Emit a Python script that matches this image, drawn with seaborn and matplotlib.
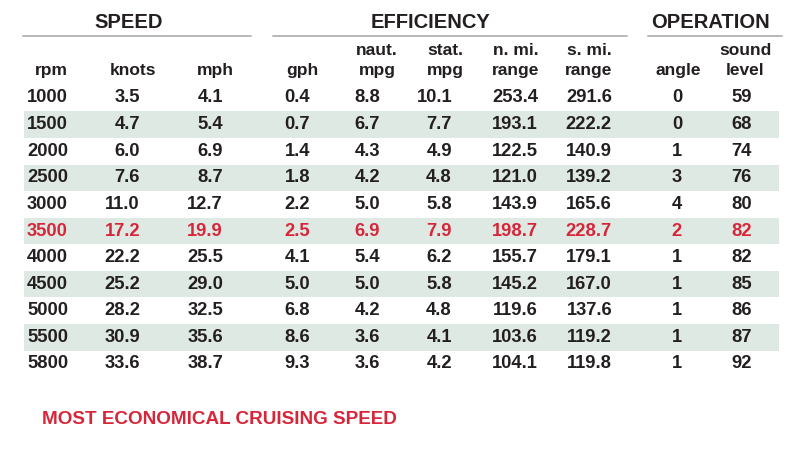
import matplotlib
matplotlib.use("Agg")
import matplotlib.pyplot as plt
import seaborn as sns

# ---- data ----
rpm = [1000, 1500, 2000, 2500, 3000, 3500, 4000, 4500, 5000, 5500, 5800]
knots = [3.5, 4.7, 6.0, 7.6, 11.0, 17.2, 22.2, 25.2, 28.2, 30.9, 33.6]
mph = [4.1, 5.4, 6.9, 8.7, 12.7, 19.9, 25.5, 29.0, 32.5, 35.6, 38.7]
gph = [0.4, 0.7, 1.4, 1.8, 2.2, 2.5, 4.1, 5.0, 6.8, 8.6, 9.3]
naut_mpg = [8.8, 6.7, 4.3, 4.2, 5.0, 6.9, 5.4, 5.0, 4.2, 3.6, 3.6]
stat_mpg = [10.1, 7.7, 4.9, 4.8, 5.8, 7.9, 6.2, 5.8, 4.8, 4.1, 4.2]
nmi_range = [253.4, 193.1, 122.5, 121.0, 143.9, 198.7, 155.7, 145.2, 119.6, 103.6, 104.1]
smi_range = [291.6, 222.2, 140.9, 139.2, 165.6, 228.7, 179.1, 167.0, 137.6, 119.2, 119.8]
angle = [0, 0, 1, 3, 4, 2, 1, 1, 1, 1, 1]
sound = [59, 68, 74, 76, 80, 82, 82, 85, 86, 87, 92]

groups = ["SPEED", "EFFICIENCY", "OPERATION"]
col_labels = ["rpm", "knots", "mph", "gph", "naut.\nmpg", "stat.\nmpg",
              "n. mi.\nrange", "s. mi.\nrange", "angle", "sound\nlevel"]
highlight_rpm = 3500
footer = "MOST ECONOMICAL CRUISING SPEED"

# ---- style ----
sns.set_theme(style="white")
plt.rcParams['font.family'] = ['Liberation Sans', 'DejaVu Sans']

DARK = "#231f20"
RED = "#d7263a"
BAND = "#dfe9e3"
RULE = "#b8b8b8"

columns = [
    [str(v) for v in rpm],
    [f"{v:.1f}" for v in knots],
    [f"{v:.1f}" for v in mph],
    [f"{v:.1f}" for v in gph],
    [f"{v:.1f}" for v in naut_mpg],
    [f"{v:.1f}" for v in stat_mpg],
    [f"{v:.1f}" for v in nmi_range],
    [f"{v:.1f}" for v in smi_range],
    [str(v) for v in angle],
    [str(v) for v in sound],
]

# anchor x for values and alignment, header centers
val_x = [27, 140, 223, 310, 380, 452, 538, 612, 677, 752]
val_ha = ["left", "right", "right", "right", "right", "right", "right", "right", "center", "right"]
head_x = [51, 133, 215, 302, 377, 445, 516, 589, 678, 745]
group_x = [129, 430, 710]
group_span = [(23, 251), (273, 627), (648, 782)]

fig = plt.figure(figsize=(8, 4.5), dpi=100)
ax = fig.add_axes([0, 0, 1, 1])
ax.set_xlim(0, 800)
ax.set_ylim(450, 0)
ax.axis("off")

row0 = 98
step = 26.6

# shaded bands on every other row
for i in range(len(rpm)):
    y = row0 + i * step
    if i % 2 == 1:
        ax.axhspan(y - 13.2, y + 13.2, xmin=24 / 800, xmax=779 / 800,
                   color=BAND, lw=0, zorder=0)

# group headers + rules
for name, gx, (x0, x1) in zip(groups, group_x, group_span):
    ax.text(gx, 23, name, ha="center", va="center", fontsize=14.5,
            fontweight="bold", color=DARK)
    ax.plot([x0, x1], [36, 36], color=RULE, lw=1.4)

# column headers
for lab, hx in zip(col_labels, head_x):
    ax.text(hx, 75, lab, ha="center", va="baseline", fontsize=12.5,
            fontweight="bold", color=DARK, linespacing=1.45)

# values
for i in range(len(rpm)):
    y = row0 + i * step
    c = RED if rpm[i] == highlight_rpm else DARK
    for col, vx, ha in zip(columns, val_x, val_ha):
        ax.text(vx, y, col[i], ha=ha, va="center", fontsize=13.2,
                fontweight="bold", color=c)

ax.text(42, 420, footer, ha="left", va="center", fontsize=13.6,
        fontweight="bold", color=RED)

fig.savefig("out.png", dpi=100)
